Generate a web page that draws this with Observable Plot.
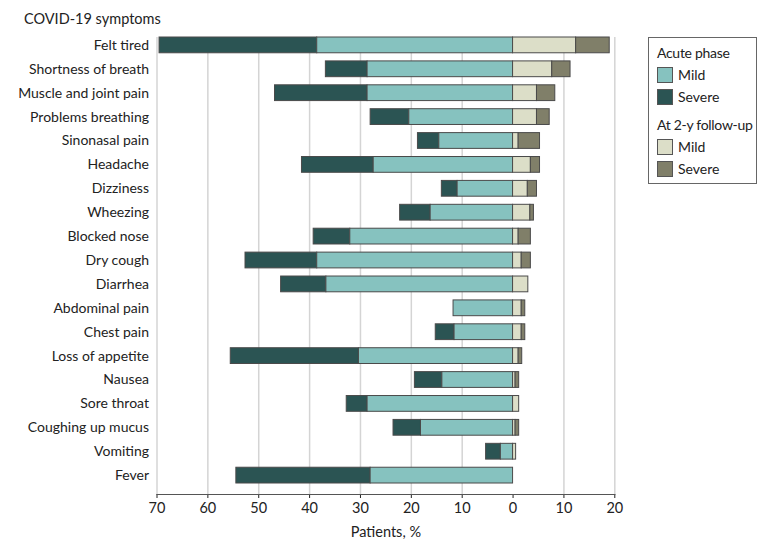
<!DOCTYPE html>
<html>
<head>
<meta charset="utf-8">
<script src="https://cdn.jsdelivr.net/npm/d3@7"></script>
<script src="https://cdn.jsdelivr.net/npm/@observablehq/plot@0.6"></script>
<style>
  body { margin: 0; background: #fff; font-family: Lato, "Open Sans", sans-serif; }
  #wrap { position: relative; width: 780px; height: 549px; }
  #title { position: absolute; left: 24px; top: 10px; font-size: 14.5px; color: #222; }
  #legend { position: absolute; left: 648px; top: 37px; width: 107px; height: 145px; border: 1px solid #666; box-sizing: content-box; font-size: 14px; color: #222; }
  #legend .hd { position: absolute; left: 8px; white-space: nowrap; letter-spacing: -0.3px; }
  #legend .it { position: absolute; left: 8px; display: flex; align-items: center; white-space: nowrap; }
  #legend .sw { width: 16px; height: 16px; border: 1px solid #555; margin-right: 5px; box-sizing: border-box; }
</style>
</head>
<body>
<div id="wrap">
  <div id="chart"></div>
  <div id="title">COVID-19 symptoms</div>
  <div id="legend"></div>
</div>
<script>
const symptoms = ["Felt tired","Shortness of breath","Muscle and joint pain","Problems breathing","Sinonasal pain","Headache","Dizziness","Wheezing","Blocked nose","Dry cough","Diarrhea","Abdominal pain","Chest pain","Loss of appetite","Nausea","Sore throat","Coughing up mucus","Vomiting","Fever"];
const acuteMild   = [38.5, 28.6, 28.6, 20.4, 14.5, 27.4, 10.9, 16.2, 32.0, 38.5, 36.7, 11.7, 11.5, 30.3, 13.9, 28.6, 18.1, 2.4, 28.0];
const acuteSevere = [31.0,  8.2, 18.2,  7.6,  4.2, 14.1,  3.1,  6.0,  7.2, 14.1,  8.9,  0.0,  3.7, 25.2,  5.4,  4.1,  5.4, 2.9, 26.4];
const fuMild      = [12.4,  7.7,  4.7,  4.7,  1.1,  3.5,  2.9,  3.4,  1.1,  1.7,  3.0,  1.7,  1.7,  1.1,  0.5,  1.2,  0.5, 0.6, 0.0];
const fuSevere    = [ 6.6,  3.6,  3.6,  2.5,  4.2,  1.8,  1.8,  0.7,  2.4,  1.8,  0.0,  0.7,  0.7,  0.7,  0.7,  0.0,  0.7, 0.0, 0.0];
const xTicks = [-70, -60, -50, -40, -30, -20, -10, 0, 10, 20];
const groups = ["Acute phase", "At 2-y follow-up"];
const levels = ["Mild", "Severe"];
const colors = {"Acute Mild": "#86C2BF", "Acute Severe": "#2B5453", "FU Mild": "#DCDEC8", "FU Severe": "#807F69"};

const segs = [];
symptoms.forEach((s, i) => {
  const am = acuteMild[i], as = acuteSevere[i], fm = fuMild[i], fs = fuSevere[i];
  if (as > 0) segs.push({s, k: "Acute Severe", x1: -(am + as), x2: -am});
  if (am > 0) segs.push({s, k: "Acute Mild", x1: -am, x2: 0});
  if (fm > 0) segs.push({s, k: "FU Mild", x1: 0, x2: fm});
  if (fs > 0) segs.push({s, k: "FU Severe", x1: fm, x2: fm + fs});
});

const chart = Plot.plot({
  width: 780,
  height: 549,
  marginLeft: 156.5,
  marginRight: 165.7,
  marginTop: 37,
  marginBottom: 55,
  style: {fontFamily: "Lato, 'Open Sans', sans-serif", fontSize: "14px", color: "#222", background: "#fff"},
  x: {domain: [-70, 20]},
  y: {domain: symptoms, paddingInner: 0.34, paddingOuter: 0.23, align: 0, round: false},
  marks: [
    Plot.gridX(xTicks.filter(d => d !== 0), {stroke: "#d4d4d4", strokeOpacity: 1, strokeWidth: 1.5}),
    Plot.barX(segs, {y: "s", x1: "x1", x2: "x2", fill: d => colors[d.k], stroke: "#4a4a4a", strokeWidth: 1, inset: 0}),
    Plot.axisY({tickSize: 0, tickPadding: 8, label: null, fontSize: 14}),
    Plot.axisX({ticks: xTicks, tickFormat: d => Math.abs(d), tickSize: 4, tickPadding: 4, label: "Patients, %", labelAnchor: "center", labelArrow: "none", labelOffset: 42, fontSize: 14.5}),
    Plot.frame({anchor: "bottom", stroke: "#555", strokeWidth: 1.2})
  ]
});
document.getElementById("chart").appendChild(chart);

// legend
const lg = document.getElementById("legend");
const items = [
  {t: "hd", text: groups[0], top: 6},
  {t: "it", text: levels[0], key: "Acute Mild", top: 28},
  {t: "it", text: levels[1], key: "Acute Severe", top: 50},
  {t: "hd", text: groups[1], top: 78},
  {t: "it", text: levels[0], key: "FU Mild", top: 100},
  {t: "it", text: levels[1], key: "FU Severe", top: 122}
];
items.forEach(it => {
  const d = document.createElement("div");
  d.className = it.t;
  d.style.top = it.top + "px";
  if (it.t === "hd") d.textContent = it.text;
  else {
    const sw = document.createElement("div");
    sw.className = "sw";
    sw.style.background = colors[it.key];
    d.appendChild(sw);
    const sp = document.createElement("span");
    sp.textContent = it.text;
    d.appendChild(sp);
  }
  lg.appendChild(d);
});
</script>
</body>
</html>
